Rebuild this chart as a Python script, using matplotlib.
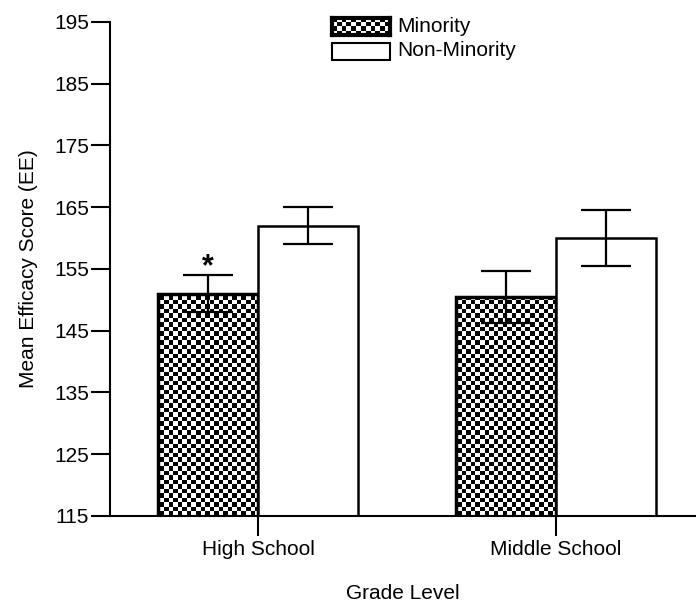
import matplotlib
matplotlib.use('Agg')
import matplotlib.pyplot as plt
import numpy as np
from matplotlib import font_manager
from matplotlib.patches import Rectangle

# narrow sans if present, plain Liberation Sans otherwise
try:
    font_manager.findfont('Liberation Sans Narrow', fallback_to_default=False)
    family, fs = 'Liberation Sans Narrow', 18
except ValueError:
    family, fs = 'Liberation Sans', 15
plt.rcParams['font.family'] = [family, 'DejaVu Sans']

groups = ['High School', 'Middle School']
minority = [151, 150.5]
minority_sem = [3, 4.2]
non_minority = [162, 160]
non_minority_sem = [3, 4.5]
yticks = [115, 125, 135, 145, 155, 165, 175, 185, 195]


def checker(ny, nx):
    i, j = np.indices((ny, nx))
    return (i + j) % 2


W, H = 696, 611
fig = plt.figure(figsize=(W / 100, H / 100), dpi=100)
ax = fig.add_axes([110 / W, 95 / H, 586 / W, 494 / H])

xlim = (-0.497, 1.47)
ylim = (115, 195)
x = np.arange(len(groups))
w = 0.336

# minority bars: outline only, checkerboard image clipped inside
mbars = ax.bar(x - w / 2, minority, w, facecolor='none', edgecolor='black',
               linewidth=2.5, zorder=2)
pattern = checker(110, 130)
for b in mbars:
    im = ax.imshow(pattern, cmap='gray', extent=(*xlim, *ylim), aspect='auto',
                   interpolation='nearest', zorder=1)
    im.set_clip_path(b)

ax.bar(x + w / 2, non_minority, w, facecolor='white', edgecolor='black',
       linewidth=1.8, zorder=2)

ax.errorbar(x - w / 2, minority, yerr=minority_sem, fmt='none', ecolor='black',
            elinewidth=1.6, capsize=18, capthick=1.6, zorder=3)
ax.errorbar(x + w / 2, non_minority, yerr=non_minority_sem, fmt='none',
            ecolor='black', elinewidth=1.6, capsize=18, capthick=1.6, zorder=3)

ax.text(x[0] - w / 2, minority[0] + minority_sem[0] + 1.3, '*', ha='center',
        va='center', fontsize=22, fontweight='bold')

ax.set_xlim(*xlim)
ax.set_ylim(*ylim)
ax.set_yticks(yticks)
ax.set_xticks(x)
ax.set_xticklabels(groups)
ax.tick_params(axis='y', length=14, width=1.5, labelsize=fs, pad=1)
ax.tick_params(axis='x', length=14.5, width=1.5, labelsize=fs, pad=3)
for s in ['top', 'right']:
    ax.spines[s].set_visible(False)
for s in ['left', 'bottom']:
    ax.spines[s].set_linewidth(1.5)
ax.set_ylabel('Mean Efficacy Score (EE)', fontsize=fs, labelpad=12)
ax.set_xlabel('Grade Level', fontsize=fs, labelpad=18)

# legend
sw = fig.add_axes([332 / W, 1 - 35 / H, 58 / W, 17 / H])
sw.imshow(checker(4, 12), cmap='gray', aspect='auto', interpolation='nearest')
sw.set_xticks([])
sw.set_yticks([])
for s in sw.spines.values():
    s.set_linewidth(3)
fig.patches.append(Rectangle((332 / W, 1 - 60 / H), 58 / W, 17 / H,
                             transform=fig.transFigure, facecolor='white',
                             edgecolor='black', linewidth=1.5))
fig.text(397 / W, 1 - 27 / H, 'Minority', fontsize=fs, va='center')
fig.text(397 / W, 1 - 51 / H, 'Non-Minority', fontsize=fs, va='center')

fig.savefig('out.png', dpi=100)
